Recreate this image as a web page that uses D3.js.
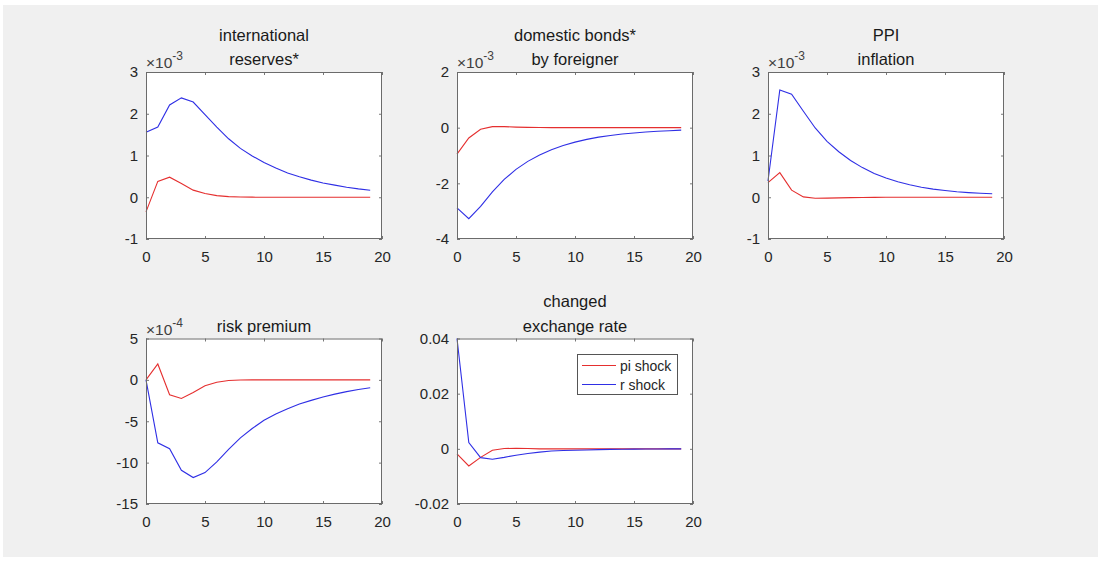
<!DOCTYPE html>
<html><head><meta charset="utf-8">
<script src="https://cdn.jsdelivr.net/npm/d3@7/dist/d3.min.js"></script>
<style>
html,body{margin:0;padding:0;background:#fff;}
svg{display:block;font-family:"Liberation Sans",Arial,Helvetica,sans-serif;}
</style></head>
<body><svg id="c" width="1102" height="563"></svg>
<script>
// periods 0..19
const periods = [0,1,2,3,4,5,6,7,8,9,10,11,12,13,14,15,16,17,18,19];
const seriesNames = ["pi shock", "r shock"];
const xTicks = [0,5,10,15,20];

// international reserves* (x1e-3)
const reservesPi = [-0.35,0.38,0.48,0.33,0.17,0.09,0.04,0.016,0.006,0.002,0,0,0,0,0,0,0,0,0,0];
const reservesR  = [1.556,1.68,2.21,2.38,2.28,1.98,1.68,1.40,1.17,0.99,0.83,0.70,0.58,0.49,0.41,0.34,0.29,0.24,0.20,0.167];
const reservesTicks = [-1,0,1,2,3];

// domestic bonds* by foreigner (x1e-3)
const bondsPi = [-0.95,-0.37,-0.06,0.036,0.036,0.02,0.01,0.005,0.002,0,0,0,0,0,0,0,0,0,0,0];
const bondsR  = [-2.88,-3.27,-2.83,-2.31,-1.86,-1.5,-1.21,-0.98,-0.79,-0.64,-0.52,-0.42,-0.34,-0.28,-0.23,-0.19,-0.155,-0.13,-0.11,-0.09];
const bondsTicks = [-4,-2,0,2];

// PPI inflation (x1e-3)
const ppiPi = [0.35,0.59,0.17,0.008,-0.024,-0.02,-0.015,-0.01,-0.005,-0.003,-0.001,0,0,0,0,0,0,0,0,0];
const ppiR  = [0.39,2.57,2.47,2.06,1.66,1.34,1.09,0.88,0.71,0.57,0.46,0.37,0.30,0.24,0.195,0.16,0.13,0.11,0.095,0.085];
const ppiTicks = [-1,0,1,2,3];

// risk premium (x1e-4)
const riskPi = [0,1.92,-1.8,-2.24,-1.52,-0.72,-0.28,-0.08,-0.02,0,0,0,0,0,0,0,0,0,0,0];
const riskR  = [0,-7.6,-8.32,-10.92,-11.8,-11.2,-9.92,-8.4,-7.0,-5.88,-4.88,-4.12,-3.48,-2.92,-2.48,-2.08,-1.72,-1.42,-1.17,-0.95];
const riskTicks = [-15,-10,-5,0,5];

// changed exchange rate
const fxPi = [-0.0018,-0.0062,-0.0031,-0.0005,0.0001,0.0002,0.0001,0,0,0,0,0,0,0,0,0,0,0,0,0];
const fxR  = [0.040,0.0023,-0.0032,-0.0038,-0.0031,-0.0023,-0.0017,-0.0012,-0.0008,-0.0006,-0.0005,-0.0004,-0.0003,-0.0002,-0.00015,-0.0001,-0.00007,-0.00005,-0.00003,-0.00002];
const fxTicks = [-0.02,0,0.02,0.04];

const panels = [
  {title:["international","reserves*"], pi:reservesPi, r:reservesR, ticks:reservesTicks, exp:"-3", col:0, row:0},
  {title:["domestic bonds*","by foreigner"], pi:bondsPi, r:bondsR, ticks:bondsTicks, exp:"-3", col:1, row:0},
  {title:["PPI","inflation"], pi:ppiPi, r:ppiR, ticks:ppiTicks, exp:"-3", col:2, row:0},
  {title:["risk premium"], pi:riskPi, r:riskR, ticks:riskTicks, exp:"-4", col:0, row:1},
  {title:["changed","exchange rate"], pi:fxPi, r:fxR, ticks:fxTicks, exp:null, col:1, row:1, legend:true}
];

const svg = d3.select("#c");
svg.append("rect").attr("x",3).attr("y",5).attr("width",1095).attr("height",552).attr("fill","#f0f0f0");

const colLeft = [146, 457, 768];
const rowTop = [72, 338.5];
const rowBottom = [239, 504];
const W = 236;
const red = "#e52f2f", blue = "#2f2fe5";
const axisCol = "#262626";
const fmt = v => String(v);

panels.forEach(p => {
  const x0 = colLeft[p.col], y0 = rowTop[p.row], y1 = rowBottom[p.row];
  const x = d3.scaleLinear().domain([0,20]).range([x0, x0+W]);
  const yd = d3.extent(p.ticks);
  const y = d3.scaleLinear().domain(yd).range([y1, y0]);
  const g = svg.append("g");
  g.append("rect").attr("x",x0).attr("y",y0).attr("width",W).attr("height",y1-y0).attr("fill","#fff");

  const line = d3.line().x((d,i)=>x(periods[i])).y(d=>y(d));
  g.append("path").datum(p.pi).attr("d",line).attr("fill","none").attr("stroke",red).attr("stroke-width",1.1);
  g.append("path").datum(p.r).attr("d",line).attr("fill","none").attr("stroke",blue).attr("stroke-width",1.1);

  const tl = 3;
  const ax = [
    g.append("g").attr("transform",`translate(0,${y1})`).call(d3.axisBottom(x).tickValues(xTicks).tickFormat(fmt).tickSizeInner(-tl).tickSizeOuter(0).tickPadding(12)),
    g.append("g").attr("transform",`translate(0,${y0})`).call(d3.axisTop(x).tickValues(xTicks).tickFormat("").tickSizeInner(-tl).tickSizeOuter(0)),
    g.append("g").attr("transform",`translate(${x0},0)`).call(d3.axisLeft(y).tickValues(p.ticks).tickFormat(fmt).tickSizeInner(-tl).tickSizeOuter(0).tickPadding(8)),
    g.append("g").attr("transform",`translate(${x0+W},0)`).call(d3.axisRight(y).tickValues(p.ticks).tickFormat("").tickSizeInner(-tl).tickSizeOuter(0))
  ];
  ax.forEach(a => {
    a.select(".domain").remove();
    a.selectAll(".tick line").attr("stroke","#555").attr("stroke-width",0.8);
    a.selectAll("text").attr("fill",axisCol).style("font-size","15px").style("font-family","Liberation Sans, Arial, sans-serif");
  });
  g.append("rect").attr("x",x0+0.5).attr("y",y0+0.5).attr("width",W-1).attr("height",y1-y0-1)
    .attr("fill","none").attr("stroke","#6b6b6b").attr("stroke-width",1);

  // title
  const cx = x0 + W/2;
  const lines = p.title;
  lines.forEach((t,i) => {
    const base = y0 - 7 - (lines.length-1-i)*24.5;
    g.append("text").attr("x",cx).attr("y",base).attr("text-anchor","middle")
      .attr("fill","#1a1a1a").style("font-size","16.5px").text(t);
  });

  // exponent
  if (p.exp) {
    const t = g.append("text").attr("x",x0).attr("y",y0-4).attr("fill","#404040").style("font-size","15.5px");
    t.append("tspan").text("\u00d710");
    t.append("tspan").attr("dy",-8).style("font-size","12px").text(p.exp);
  }

  if (p.legend) {
    const lx = 577.5, ly = 354.5, lw = 100, lh = 40;
    const lg = g.append("g");
    lg.append("rect").attr("x",lx).attr("y",ly).attr("width",lw).attr("height",lh)
      .attr("fill","#fff").attr("stroke","#555").attr("stroke-width",1);
    [[red,seriesNames[0],365.5],[blue,seriesNames[1],384.5]].forEach(([c,n,yy]) => {
      lg.append("line").attr("x1",582).attr("x2",616).attr("y1",yy).attr("y2",yy).attr("stroke",c).attr("stroke-width",1.1);
      lg.append("text").attr("x",620).attr("y",yy+5).attr("fill",axisCol).style("font-size","14px").text(n);
    });
  }
});
</script>
</body></html>
